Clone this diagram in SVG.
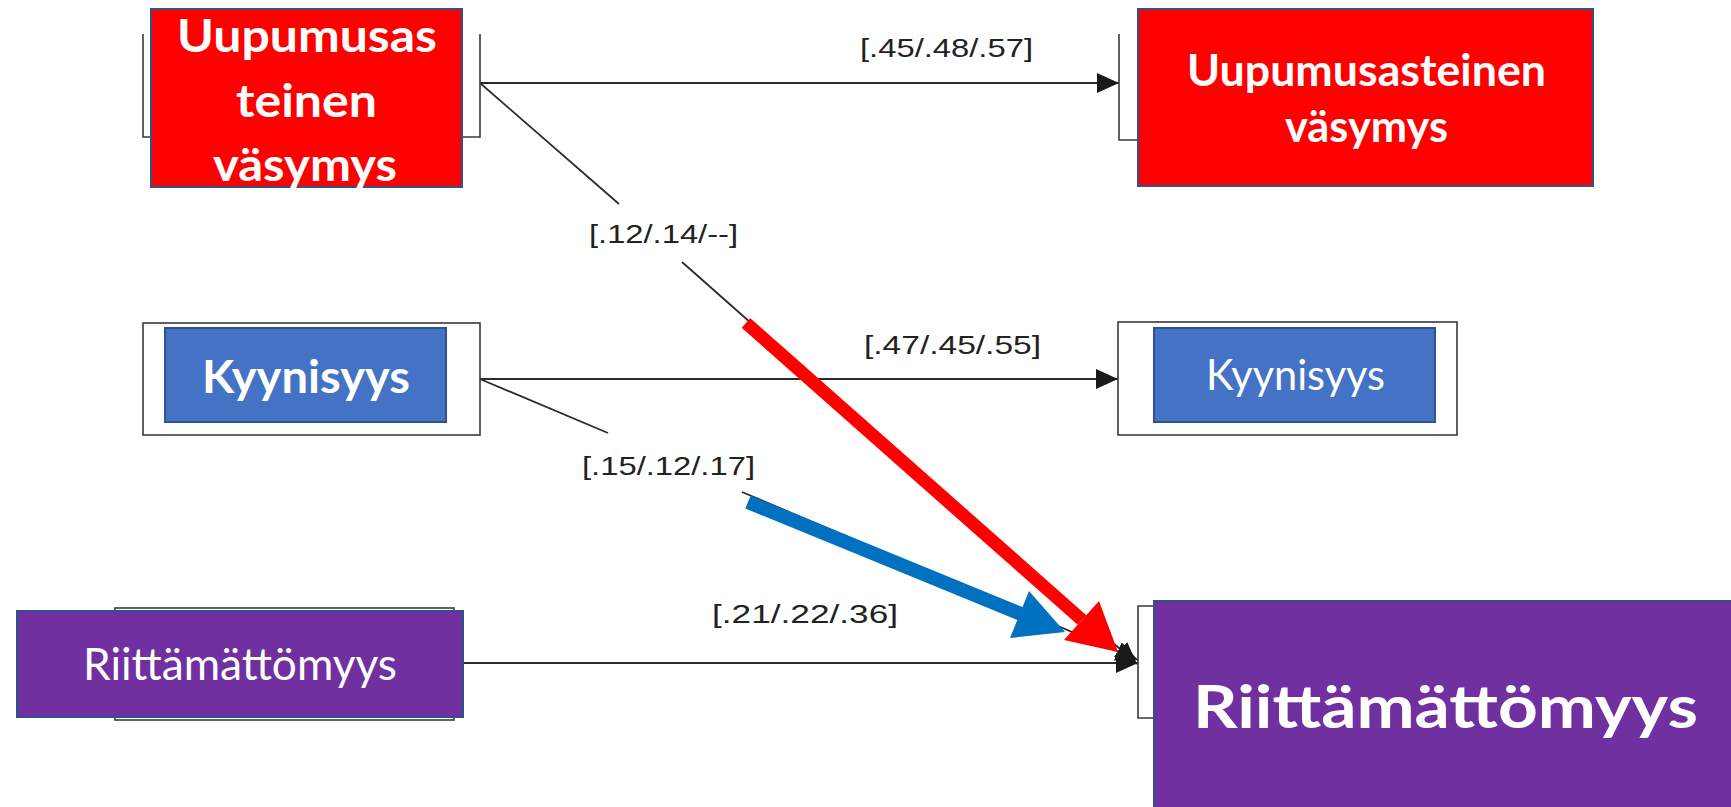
<svg xmlns="http://www.w3.org/2000/svg" width="1731" height="807" viewBox="0 0 1731 807">
  <style>
    .frame { fill: none; stroke: #3a3a3a; stroke-width: 1.6; }
    .red { fill: #FF0000; stroke: #2F528F; stroke-width: 2; }
    .blue { fill: #4472C4; stroke: #2F528F; stroke-width: 2; }
    .purple { fill: #7030A0; stroke: #2F528F; stroke-width: 2; }
    .lbl { font-family: "Lato", "Open Sans", "Liberation Sans", sans-serif; fill: #ffffff; }
    .b { font-weight: bold; }
    .coef { font-family: "Liberation Sans", Arial, sans-serif; font-size: 26px; fill: #222222; }
    .link { fill: none; stroke: #2b2b2b; stroke-width: 1.8; }
  </style>
  <defs>
    <marker id="head" markerUnits="userSpaceOnUse" markerWidth="22" markerHeight="20" refX="22" refY="10" orient="auto">
      <path d="M0,0 L22,10 L0,20 z" fill="#1a1a1a"/>
    </marker>
  </defs>
  <rect width="1731" height="807" fill="#ffffff"/>

  <!-- thin black paths of the base model -->
  <g id="connectors">
    <line class="link" x1="480" y1="83" x2="1119" y2="83" marker-end="url(#head)"/>
    <line class="link" x1="480" y1="379" x2="1118" y2="379" marker-end="url(#head)"/>
    <line class="link" x1="463" y1="663" x2="1138" y2="663" marker-end="url(#head)"/>
    <line class="link" x1="480" y1="83" x2="619" y2="204"/>
    <line class="link" x1="682" y1="262" x2="1137" y2="664" marker-end="url(#head)"/>
    <line class="link" x1="480" y1="379" x2="608" y2="433"/>
    <line class="link" x1="742" y1="492" x2="1138" y2="660" marker-end="url(#head)"/>

    <text class="coef" x="860" y="57" textLength="173" lengthAdjust="spacingAndGlyphs">[.45/.48/.57]</text>
    <text class="coef" x="589" y="243" textLength="149" lengthAdjust="spacingAndGlyphs">[.12/.14/--]</text>
    <text class="coef" x="864" y="354" textLength="177" lengthAdjust="spacingAndGlyphs">[.47/.45/.55]</text>
    <text class="coef" x="582" y="475" textLength="173" lengthAdjust="spacingAndGlyphs">[.15/.12/.17]</text>
    <text class="coef" x="712" y="623" textLength="186" lengthAdjust="spacingAndGlyphs">[.21/.22/.36]</text>
  </g>

  <!-- highlighted paths -->
  <g id="highlights">
    <line x1="746" y1="323" x2="1082" y2="620" stroke="#FF0000" stroke-width="13"/>
    <polygon points="1118,652 1064,640 1099,601" fill="#FF0000"/>
    <line x1="748" y1="502" x2="1021" y2="614" stroke="#0070C0" stroke-width="14"/>
    <polygon points="1065,632 1010,638 1029,591" fill="#0070C0"/>
  </g>

  <g id="exhaustion-t1">
    <path class="frame" d="M143,34 V137 H151 M480,34 V137 H462"/>
    <rect class="red" x="151" y="9" width="311" height="178"/>
    <text class="lbl b" font-size="46" x="177" y="52" textLength="260" lengthAdjust="spacingAndGlyphs">Uupumusas</text>
    <text class="lbl b" font-size="46" x="236" y="117" textLength="141" lengthAdjust="spacingAndGlyphs">teinen</text>
    <text class="lbl b" font-size="46" x="213" y="181" textLength="184" lengthAdjust="spacingAndGlyphs">väsymys</text>
  </g>

  <g id="exhaustion-t2">
    <path class="frame" d="M1119,34 V140 H1138"/>
    <rect class="red" x="1138" y="9" width="455" height="177"/>
    <text class="lbl b" font-size="44" x="1187" y="86" textLength="359" lengthAdjust="spacingAndGlyphs">Uupumusasteinen</text>
    <text class="lbl b" font-size="44" x="1285" y="142" textLength="163" lengthAdjust="spacingAndGlyphs">väsymys</text>
  </g>

  <g id="cynicism-t1">
    <rect class="frame" x="143" y="323" width="337" height="112"/>
    <rect class="blue" x="165" y="328" width="281" height="94"/>
    <text class="lbl b" font-size="46" x="202" y="393" textLength="208" lengthAdjust="spacingAndGlyphs">Kyynisyys</text>
  </g>

  <g id="cynicism-t2">
    <rect class="frame" x="1118" y="322" width="339" height="113"/>
    <rect class="blue" x="1154" y="328" width="281" height="94"/>
    <text class="lbl" font-size="42" x="1206" y="390" textLength="179" lengthAdjust="spacingAndGlyphs">Kyynisyys</text>
  </g>

  <g id="inadequacy-t1">
    <rect class="frame" x="115" y="608" width="339" height="112"/>
    <rect class="purple" x="17" y="611" width="446" height="106"/>
    <text class="lbl" font-size="44" x="83" y="680" textLength="314" lengthAdjust="spacingAndGlyphs">Riittämättömyys</text>
  </g>

  <g id="inadequacy-t2">
    <path class="frame" d="M1154,606 H1138 V718 H1154"/>
    <rect class="purple" x="1154" y="601" width="590" height="220"/>
    <text class="lbl b" font-size="60" x="1193" y="728" textLength="505" lengthAdjust="spacingAndGlyphs">Riittämättömyys</text>
  </g>
</svg>
